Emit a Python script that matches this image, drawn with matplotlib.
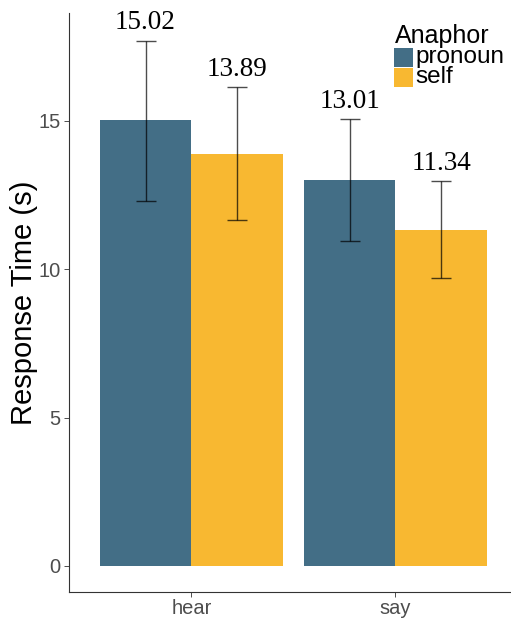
import matplotlib

matplotlib.use("Agg")
import matplotlib.pyplot as plt
import numpy as np
from matplotlib.patches import Rectangle

verbs = ["hear", "say"]
anaphors = ["pronoun", "self"]
means = {"pronoun": [15.02, 13.01], "self": [13.89, 11.34]}
lower = {"pronoun": [12.31, 10.96], "self": [11.66, 9.71]}
upper = {"pronoun": [17.71, 15.06], "self": [16.13, 12.97]}
colors = {"pronoun": "#436E86", "self": "#F8B831"}

W, H, DPI = 511, 618, 100
fig = plt.figure(figsize=(W / DPI, H / DPI), dpi=DPI)
ax = fig.add_axes([69 / W, 1 - 591.7 / H, (W - 69) / W, (591.7 - 13.3) / H])

x = np.arange(1, len(verbs) + 1)
bw = 0.45
for i, a in enumerate(anaphors):
    xs = x + (i - 0.5) * bw
    m = np.array(means[a])
    lo = np.array(lower[a])
    hi = np.array(upper[a])
    ax.bar(xs, m, width=bw, color=colors[a], linewidth=0, zorder=2)
    ax.errorbar(xs, m, yerr=[m - lo, hi - m], fmt="none", ecolor="black",
                elinewidth=1.0, capsize=7.2, capthick=1.0, alpha=0.7, zorder=3)
    for xi, hv, mv in zip(xs, hi, m):
        ax.annotate(f"{mv:.2f}", (xi, hv), xytext=(0, 8), textcoords="offset points",
                    ha="center", va="baseline", fontsize=19.5,
                    family="Liberation Serif", color="black")

ax.set_xlim(0.4, 0.4 + (W - 69) / 204)
ax.set_ylim(-0.87, 18.63)
ax.set_xticks(x)
ax.set_xticklabels(verbs)
ax.set_yticks([0, 5, 10, 15])
for s in ["top", "right"]:
    ax.spines[s].set_visible(False)
for s in ["left", "bottom"]:
    ax.spines[s].set_color("#333333")
    ax.spines[s].set_linewidth(0.8)
ax.tick_params(colors="#4D4D4D", labelsize=14.5, length=3.5, width=0.7, pad=2.5)
ax.tick_params(axis="x", pad=1.5)
for lab in ax.get_xticklabels() + ax.get_yticklabels():
    lab.set_family("Liberation Sans")
ax.set_ylabel("Response Time (s)", fontsize=21, family="Liberation Sans", color="black")
ax.yaxis.set_label_coords(-0.07, 0.5)

# legend
fig.text(395 / W, 1 - 43 / H, "Anaphor", fontsize=18, family="Liberation Sans",
         ha="left", va="baseline")
for k, a in enumerate(anaphors):
    top = 48.3 + 20 * k
    fig.patches.append(Rectangle((394 / W, 1 - (top + 18.4) / H), 18.7 / W, 18.4 / H,
                                 transform=fig.transFigure, facecolor=colors[a],
                                 edgecolor="none"))
    fig.text(415 / W, 1 - (top + 14.5) / H, a, fontsize=17.5, family="Liberation Sans",
             ha="left", va="baseline")

fig.savefig("out.png", dpi=DPI)
